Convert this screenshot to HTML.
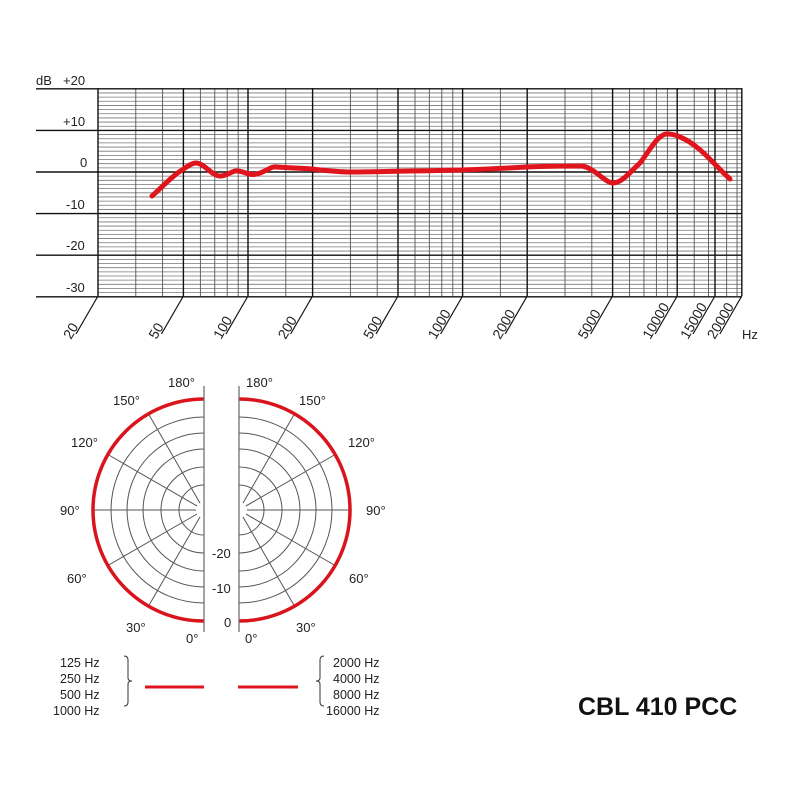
<!DOCTYPE html>
<html><head><meta charset="utf-8"><style>
body{margin:0;background:#fff;}
svg{display:block;font-family:"Liberation Sans",Arial,sans-serif;}
</style></head><body>
<svg id="s" width="800" height="800" viewBox="0 0 800 800" xmlns="http://www.w3.org/2000/svg">
<g id="grid"></g>
<g font-size="13" fill="#222">
<text x="36" y="85">dB</text><text x="63" y="85">+20</text>
<text x="63" y="126">+10</text>
<text x="80" y="167">0</text>
<text x="66" y="209">-10</text>
<text x="66" y="250">-20</text>
<text x="66" y="292">-30</text>
<text x="742" y="339">Hz</text>
</g>
<g id="xl" font-size="14" fill="#222"></g>
<path d="M152,196 C165,184 175,174 182,170 C188,166 192,163 196,163 C204,163 212,176 220,176 C228,176 232,170 238,171 C246,172 250,176 257,174 C266,172 270,166 277,167 C290,168 300,168 312,169 C330,171 340,172 350,172 C380,172 395,171 410,171 C440,171 450,170 460,170 C490,169 510,168 527,167 C550,166 570,166 582,166 C595,168 605,183 613,183 C622,183 630,172 640,163 C650,150 658,134 667,134 C672,134 676,135 680,137 C700,145 715,166 730,179" fill="none" stroke="#e0141c" stroke-width="5" stroke-linecap="round" stroke-linejoin="round"/>
<g id="polar"></g>
<g font-size="13" fill="#222">
<text x="168" y="387">180°</text><text x="246" y="387">180°</text>
<text x="113" y="405">150°</text><text x="299" y="405">150°</text>
<text x="71" y="447">120°</text><text x="348" y="447">120°</text>
<text x="60" y="515">90°</text><text x="366" y="515">90°</text>
<text x="67" y="583">60°</text><text x="349" y="583">60°</text>
<text x="126" y="632">30°</text><text x="296" y="632">30°</text>
<text x="186" y="643">0°</text><text x="245" y="643">0°</text>
<text x="212" y="558">-20</text><text x="212" y="593">-10</text><text x="224" y="627">0</text>
</g>
<g font-size="12.5" fill="#222">
<text x="60" y="667">125 Hz</text><text x="60" y="683">250 Hz</text><text x="60" y="699">500 Hz</text><text x="53" y="715">1000 Hz</text>
<text x="333" y="667">2000 Hz</text><text x="333" y="683">4000 Hz</text><text x="333" y="699">8000 Hz</text><text x="326" y="715">16000 Hz</text>
</g>
<path d="M124,656 q4,0 4,4 v18 q0,3 4,3 q-4,0 -4,3 v18 q0,4 -4,4" fill="none" stroke="#333" stroke-width="1"/>
<path d="M324,656 q-4,0 -4,4 v18 q0,3 -4,3 q4,0 4,3 v18 q0,4 4,4" fill="none" stroke="#333" stroke-width="1"/>
<line x1="145" y1="687" x2="204" y2="687" stroke="#e0141c" stroke-width="3"/>
<line x1="238" y1="687" x2="298" y2="687" stroke="#e0141c" stroke-width="3"/>
<text x="578" y="715" font-size="25" font-weight="bold" fill="#111">CBL 410 PCC</text>
</svg>
<script>
const NS="http://www.w3.org/2000/svg";
function el(p,t,a){const e=document.createElementNS(NS,t);for(const k in a)e.setAttribute(k,a[k]);p.appendChild(e);return e;}
const g=document.getElementById('grid');
const X0=98,X1=742,Y0=88,Y1=296;
const fx=f=>X0+(Math.log10(f)-Math.log10(20))*214.6;
const fy=d=>172-d*4.16;
for(let d=-30;d<=20;d++){ if(d%10==0) continue; el(g,'line',{x1:X0,x2:X1,y1:fy(d),y2:fy(d),stroke:'#777','stroke-width':0.8});}
for(const f of [30,40,60,70,80,90,150,300,400,600,700,800,900,1500,3000,4000,6000,7000,8000,9000,12000,14000,17000,19000]){const x=fx(f);el(g,'line',{x1:x,x2:x,y1:Y0,y2:Y1,stroke:'#555','stroke-width':0.9});}
const majors=[20,50,100,200,500,1000,2000,5000,10000,15000,20000];
for(const f of majors){const x=fx(f);el(g,'line',{x1:x,x2:x,y1:Y0,y2:Y1,stroke:'#111','stroke-width':1.4});el(g,'line',{x1:x,x2:x-22,y1:Y1,y2:Y1+38,stroke:'#111','stroke-width':1.2});}
for(let d=-30;d<=20;d+=10){el(g,'line',{x1:36,x2:X1,y1:fy(d),y2:fy(d),stroke:'#111','stroke-width':1.4});}
const xl=document.getElementById('xl');
for(const f of majors){const x=fx(f);const t=el(xl,'text',{x:0,y:0,transform:`translate(${x-27},${Y1+44}) rotate(-60)`});t.textContent=f;}
const p=document.getElementById('polar');
const cy=510,R=111;
function half(cx,s){
 for(const r of [25,43,61,77,93,111]){
  el(p,'path',{d:`M${cx},${cy-r} A${r},${r} 0 0 ${s<0?0:1} ${cx},${cy+r}`,fill:'none',stroke:'#555','stroke-width':1});
 }
 for(let a=30;a<180;a+=30){const rad=a*Math.PI/180;el(p,'line',{x1:cx,y1:cy,x2:cx+s*R*Math.sin(rad),y2:cy+R*Math.cos(rad),stroke:'#555','stroke-width':1});}
 el(p,'circle',{cx:cx,cy:cy,r:8,fill:'#fff'});
 el(p,'path',{d:`M${cx},${cy-R} A${R},${R} 0 0 ${s<0?0:1} ${cx},${cy+R}`,fill:'none',stroke:'#d9141c','stroke-width':3.5});
 el(p,'line',{x1:cx,x2:cx,y1:386,y2:632,stroke:'#666','stroke-width':1.2});
}
half(204,-1);half(239,1);
</script>
</body></html>
